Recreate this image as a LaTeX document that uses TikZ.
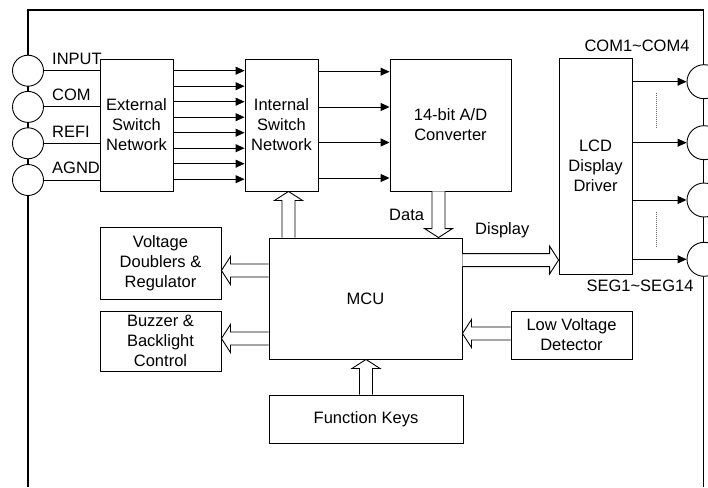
\documentclass[tikz,border=0pt]{standalone}
\usepackage{fontspec}
\setmainfont{Liberation Sans}
\usetikzlibrary{arrows.meta,calc}
\newcommand\fatarr[2]{%
  \coordinate (fh) at ($(#2)!9pt!(#1)$);
  \path[fat] ($(#1)!6.5pt!90:(#2)$) -- ($(fh)!6.5pt!90:(#2)$) -- ($(fh)!14pt!90:(#2)$)
    -- (#2) -- ($(fh)!14pt!-90:(#2)$) -- ($(fh)!6.5pt!-90:(#2)$) -- ($(#1)!6.5pt!-90:(#2)$);}
\begin{document}
\begin{tikzpicture}[x=1pt,y=-1pt,
  font=\fontsize{16.5}{20}\selectfont,
  blk/.style={draw, line width=0.9pt, inner sep=0pt, align=center, fill=white},
  sig/.style={line width=0.9pt, -{Triangle[length=9pt,width=8pt]}},
  fat/.style={draw, line width=0.9pt, fill=white, line join=miter},
  pinl/.style={circle, draw, line width=0.9pt, fill=white, minimum size=31pt, inner sep=0pt},
  pinr/.style={circle, draw, line width=0.9pt, fill=white, minimum size=34pt, inner sep=0pt},
  lbl/.style={inner sep=0pt},
  dots/.style={draw=black!60, line width=0.9pt, dash pattern=on 1pt off 1pt}]
\useasboundingbox (0,0) rectangle (708,487);
% frame
\draw[line width=1.1pt] (28,487) -- (28,10) -- (703.5,10) -- (703.5,487);
% blocks
\node[blk, minimum width=73pt, minimum height=132pt] (esn) at (136.5,125) {External\\Switch\\Network};
\node[blk, minimum width=73pt, minimum height=132pt] (isn) at (281.5,125) {Internal\\Switch\\Network};
\node[blk, minimum width=121pt, minimum height=132pt] (adc) at (450.5,125) {14-bit A/D\\Converter};
\node[blk, minimum width=73pt, minimum height=216pt] (lcd) at (595.5,166) {LCD\\Display\\Driver};
\node[blk, minimum width=121pt, minimum height=72pt] (vdr) at (160.5,263) {Voltage\\Doublers \&\\Regulator};
\node[blk, minimum width=121pt, minimum height=60pt] (buz) at (160.5,341) {Buzzer \&\\Backlight\\Control};
\node[blk, minimum width=193pt, minimum height=121pt] (mcu) at (365.5,298.5) {MCU};
\node[blk, minimum width=121pt, minimum height=48pt] (lvd) at (571.5,335) {Low Voltage\\Detector};
\node[blk, minimum width=194pt, minimum height=48pt] (fk) at (366,419) {Function Keys};
% left pins
\foreach \n/\y in {1/70.7,2/106.9,3/143.3,4/180} {
  \node[pinl] (p\n) at (28,\y) {};
  \draw[line width=0.9pt] (p\n.east) -- (p\n.east -| esn.west);
}
\node[lbl, anchor=base west] (lin) at (52,64) {INPUT};
\node[lbl, anchor=base west] (lcom) at (52,100.5) {COM};
\node[lbl, anchor=base west] (lref) at (52,137) {REFI};
\node[lbl, anchor=base west] (lagn) at (52,173) {AGND};
% external -> internal
\foreach \y in {70.7,86.2,101.7,117.2,132.7,148.2,163.7,179.2} {
  \coordinate (t) at (0,\y);
  \draw[sig] (esn.east |- t) -- (isn.west |- t);
}
% internal -> adc
\foreach \y in {71.7,107,142.5,178} {
  \coordinate (t) at (0,\y);
  \draw[sig] (isn.east |- t) -- (adc.west |- t);
}
% right pins
\foreach \n/\y in {1/81.7,2/142.7,3/200,4/259.3} {
  \node[pinr] (r\n) at (704,\y) {};
  \draw[sig] (lcd.east |- r\n) -- (r\n.west);
}
\draw[dots] (656,93) -- (656,128);
\draw[dots] (656,212) -- (656,247);
\node[lbl, anchor=base] (lcomx) at (637,52) {COM1\string~COM4};
\node[lbl, anchor=base] (lseg) at (640,291.5) {SEG1\string~SEG14};
% hollow arrows
\coordinate (u1) at ($(isn.south)+(7,0)$);
\fatarr{u1 |- mcu.north}{u1}
\coordinate (u2) at ($(adc.south)+(-12,0)$);
\fatarr{u2}{u2 |- mcu.north}
\coordinate (u3) at ($(mcu.north east)+(0,22.5)$);
\fatarr{u3}{u3 -| lcd.west}
\coordinate (u4) at ($(vdr.east)+(0,7.5)$);
\fatarr{u4 -| mcu.west}{u4}
\coordinate (u5) at ($(buz.east)+(0,-2.5)$);
\fatarr{u5 -| mcu.west}{u5}
\coordinate (u6) at ($(lvd.west)+(0,-1.5)$);
\fatarr{u6}{u6 -| mcu.east}
\fatarr{fk.north}{fk.north |- mcu.south}
\node[lbl, anchor=base west] (ldata) at (389,220) {Data};
\node[lbl, anchor=base west] (ldisp) at (475,234) {Display};
\end{tikzpicture}
\end{document}
